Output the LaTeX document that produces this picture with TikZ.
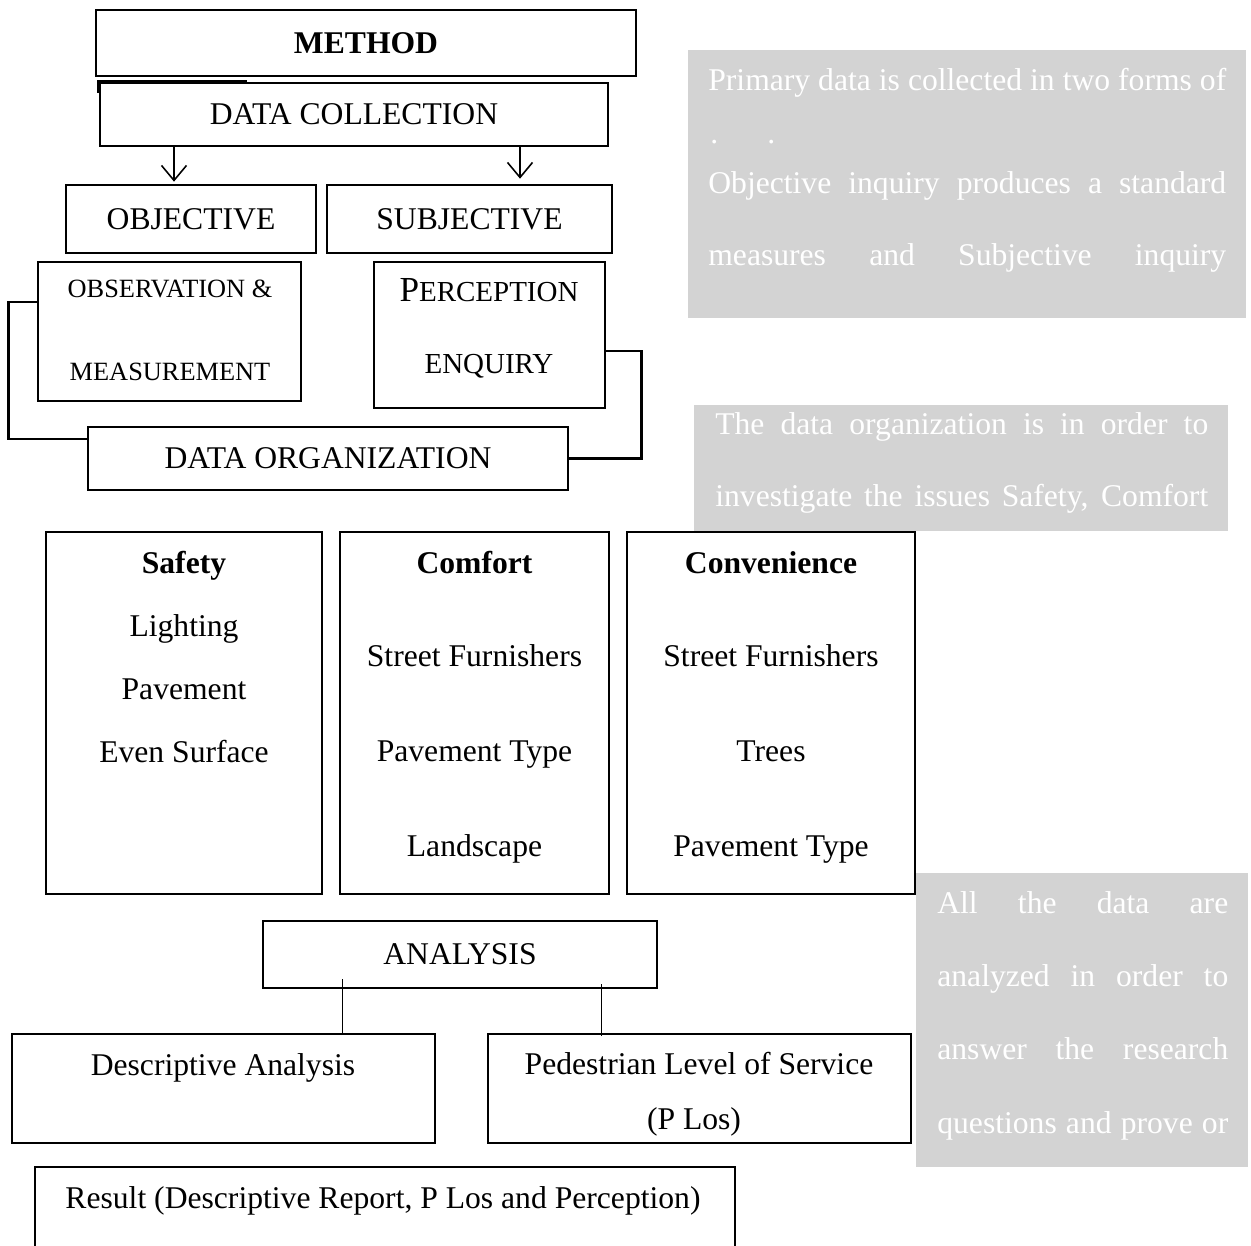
\documentclass[tikz,border=0pt]{standalone}
\usepackage{fontspec}
\setmainfont{Liberation Serif}
\usetikzlibrary{arrows.meta,positioning}
\definecolor{notegray}{HTML}{D3D3D3}

\tikzset{
  box/.style={draw, line width=1.5pt, inner sep=0pt, font=\fontsize{18}{20}\selectfont},
  txt/.style={anchor=base, inner sep=0pt, font=\fontsize{18}{20}\selectfont},
  smalltxt/.style={anchor=base, inner sep=0pt, font=\fontsize{15}{17}\selectfont},
  midtxt/.style={anchor=base, inner sep=0pt, font=\fontsize{16.5}{18}\selectfont},
  note/.style={fill=notegray, inner sep=0pt},
  notetxt/.style={anchor=base west, inner sep=0pt, text=white, font=\fontsize{18}{20}\selectfont},
  link/.style={line width=1.4pt},
  thinlink/.style={line width=0.5pt},
  arrow/.style={line width=0.9pt, -{Straight Barb[length=0.3cm, width=0.5cm]}}
}

\begin{document}
\begin{tikzpicture}[x=0.02cm, y=-0.02cm]
  \useasboundingbox (0,0) rectangle (1251,1245);
  \clip (0,0) rectangle (1251,1245);

  % Gray side notes
  \node[note, minimum width=11.16cm, minimum height=5.36cm] (note-primary) at (967,184) {};
  \node[notetxt] (np-1) at (708,90) {\makebox[10.36cm][s]{Primary data is collected in two forms of}};
  \node[notetxt] (np-2) at (710,143) {.};
  \node[notetxt] (np-3) at (767,143) {.};
  \node[notetxt] (np-4) at (708,193) {\makebox[10.36cm][s]{Objective inquiry produces a standard}};
  \node[notetxt] (np-5) at (708,265) {\makebox[10.36cm][s]{measures and Subjective inquiry}};

  \node[note, minimum width=10.68cm, minimum height=2.52cm] (note-organize) at (961,468) {};
  \node[notetxt] (no-1) at (715,434) {\makebox[9.86cm][s]{The data organization is in order to}};
  \node[notetxt] (no-2) at (715,506) {\makebox[9.86cm][s]{investigate the issues Safety, Comfort}};

  \node[note, minimum width=6.64cm, minimum height=5.88cm] (note-analysis) at (1082,1020) {};
  \node[notetxt] (na-1) at (937,913) {\makebox[5.82cm][s]{All the data are}};
  \node[notetxt] (na-2) at (937,986) {\makebox[5.82cm][s]{analyzed in order to}};
  \node[notetxt] (na-3) at (937,1059) {\makebox[5.82cm][s]{answer the research}};
  \node[notetxt] (na-4) at (937,1133) {\makebox[5.82cm][s]{questions and prove or}};

  % Method and data collection
  \node[box, minimum width=10.8cm, minimum height=1.32cm] (method) at (366,43) {\textbf{METHOD}};
  \node[box, minimum width=10.16cm, minimum height=1.26cm] (collect) at (354,114.5) {DATA COLLECTION};
  \draw[line width=2pt] (collect.north west) ++(0,11) -- (collect.north west) -- ++(148,0);

  \node[box, minimum width=5cm, minimum height=1.36cm] (objective) at (191,219) {OBJECTIVE};
  \node[box, minimum width=5.7cm, minimum height=1.36cm] (subjective) at (469.5,219) {SUBJECTIVE};

  \coordinate (arr-l) at (174,0);
  \coordinate (arr-r) at (520,0);
  \draw[arrow, shorten >=0.04cm] (collect.south -| arr-l) -- (objective.north -| arr-l);
  \draw[arrow, shorten >=0.1cm] (collect.south -| arr-r) -- (subjective.north -| arr-r);

  \node[box, minimum width=5.26cm, minimum height=2.78cm] (observe) at (169.5,331.5) {};
  \node[smalltxt] (observe-1) at (170,297) {OBSERVATION \&};
  \node[smalltxt] (observe-2) at (170,380) {MEASUREMENT};

  \node[box, minimum width=4.62cm, minimum height=2.92cm] (percept) at (489.5,335) {};
  \node[midtxt] (percept-1) at (489,301) {{\fontsize{20}{22}\selectfont P}ERCEPTION};
  \node[midtxt] (percept-2) at (489,373) {ENQUIRY};

  \node[box, minimum width=9.6cm, minimum height=1.26cm] (organize) at (328,458.5) {DATA ORGANIZATION};

  % Elbow links into data organization
  \draw[link] ([yshift=0.59cm]observe.west) -- ++(-28,0) |- ([yshift=0.39cm]organize.west);
  \draw[link] ([yshift=-0.32cm]percept.east) -- ++(35,0) |- (organize.east);

  % Issue boxes
  \node[box, minimum width=5.52cm, minimum height=7.24cm] (safety) at (184,713) {};
  \node[box, minimum width=5.38cm, minimum height=7.24cm] (comfort) at (474.5,713) {};
  \node[box, minimum width=5.76cm, minimum height=7.24cm] (convenience) at (771,713) {};

  \node[txt] (safety-0) at (184,573) {\textbf{Safety}};
  \node[txt] (comfort-0) at (474.5,573) {\textbf{Comfort}};
  \node[txt] (convenience-0) at (771,573) {\textbf{Convenience}};
  \foreach \t [count=\i] in {Lighting,Pavement,Even Surface}
    \node[txt] (safety-\i) at (184,573+63*\i) {\t};
  \foreach \t [count=\i] in {Street Furnishers,Pavement Type,Landscape}
    \node[txt] (comfort-\i) at (474.5,572+94.7*\i) {\t};
  \foreach \t [count=\i] in {Street Furnishers,Trees,Pavement Type}
    \node[txt] (convenience-\i) at (771,572+94.7*\i) {\t};

  % Analysis
  \node[box, minimum width=7.88cm, minimum height=1.34cm] (analysis) at (460,954.5) {ANALYSIS};
  \node[box, minimum width=8.46cm, minimum height=2.18cm] (descriptive) at (223.5,1088.5) {};
  \node[txt] (descriptive-1) at (223,1075) {Descriptive Analysis};
  \node[box, minimum width=8.46cm, minimum height=2.18cm] (plos) at (699.5,1088.5) {};
  \node[txt] (plos-1) at (699,1074) {Pedestrian Level of Service};
  \node[txt] (plos-2) at (694,1129) {(P Los)};

  \coordinate (an-l) at (342,979);
  \coordinate (an-r) at (601,984);
  \draw[thinlink] (an-l) -- (an-l |- descriptive.north);
  \draw[thinlink] (an-r) -- ([yshift=-0.06cm]an-r |- plos.north);

  % Result (runs off the page)
  \node[box, minimum width=14cm, minimum height=2.46cm] (result) at (385,1228.5) {};
  \node[txt] (result-1) at (383,1208) {Result (Descriptive Report, P Los and Perception)};
\end{tikzpicture}
\end{document}
